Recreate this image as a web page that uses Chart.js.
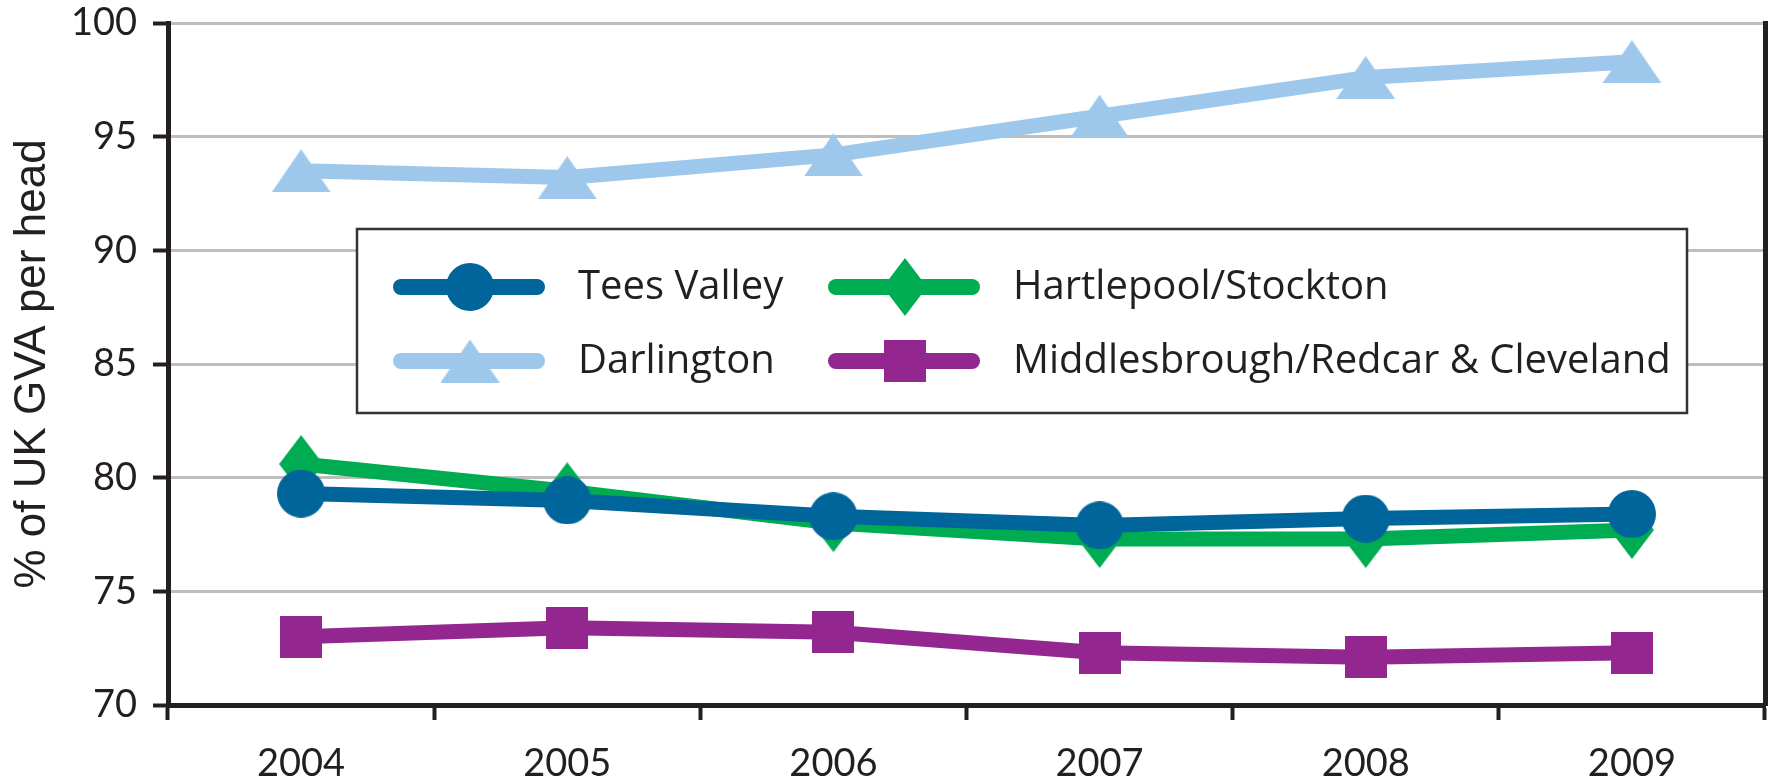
<!DOCTYPE html>
<html>
<head>
<meta charset="utf-8">
<script src="https://cdn.jsdelivr.net/npm/chart.js@4"></script>
<style>
  html, body { margin: 0; padding: 0; background: #fff; }
</style>
</head>
<body>
<canvas id="myChart" width="1783" height="776"></canvas>
<script>
const years = ['2004', '2005', '2006', '2007', '2008', '2009'];
const teesValley = [79.3, 79.0, 78.3, 77.9, 78.2, 78.4];
const darlington = [93.5, 93.2, 94.2, 95.9, 97.6, 98.3];
const hartlepoolStockton = [80.6, 79.4, 78.0, 77.3, 77.3, 77.7];
const middlesbroughRedcar = [73.0, 73.4, 73.2, 72.3, 72.1, 72.3];
const yTicks = [70, 75, 80, 85, 90, 95, 100];

const ink = '#231F20';
const gridGray = '#BEBEBE';

// marker shapes as small canvases so they can be a bit stretched like the original
function makeMarker(shape, color) {
  const c = document.createElement('canvas');
  const sizes = { circle: [48, 48], triangle: [59, 43], diamond: [44, 58], square: [42, 42] };
  const [w, h] = sizes[shape];
  c.width = w;
  c.height = h;
  const g = c.getContext('2d');
  g.fillStyle = color;
  g.beginPath();
  if (shape === 'circle') {
    g.arc(w / 2, h / 2, w / 2, 0, Math.PI * 2);
  } else if (shape === 'triangle') {
    g.moveTo(w / 2, 0);
    g.lineTo(w, h);
    g.lineTo(0, h);
  } else if (shape === 'diamond') {
    g.moveTo(w / 2, 0);
    g.lineTo(w, h / 2);
    g.lineTo(w / 2, h);
    g.lineTo(0, h / 2);
  } else {
    g.rect(0, 0, w, h);
  }
  g.closePath();
  g.fill();
  return c;
}

const series = [
  { label: 'Tees Valley', data: teesValley, color: '#00659A', shape: 'circle' },
  { label: 'Darlington', data: darlington, color: '#9DC8EC', shape: 'triangle' },
  { label: 'Hartlepool/Stockton', data: hartlepoolStockton, color: '#00AC52', shape: 'diamond' },
  { label: 'Middlesbrough/Redcar & Cleveland', data: middlesbroughRedcar, color: '#93278F', shape: 'square' }
];

const datasets = series.map(s => ({
  label: s.label,
  data: s.data,
  borderColor: s.color,
  backgroundColor: s.color,
  borderWidth: 15,
  borderJoinStyle: 'round',
  borderCapStyle: 'round',
  pointStyle: makeMarker(s.shape, s.color),
  pointRadius: 20,
  tension: 0
}));

// legend box sitting inside the plot
const boxLegend = {
  id: 'boxLegend',
  afterDraw(chart) {
    const { ctx } = chart;
    const x0 = 357, y0 = 229, w = 1330, h = 184;
    ctx.save();
    ctx.fillStyle = '#fff';
    ctx.fillRect(x0, y0, w, h);
    ctx.strokeStyle = '#333';
    ctx.lineWidth = 2.5;
    ctx.strokeRect(x0, y0, w, h);
    chart.data.datasets.forEach((ds, i) => {
      const cx = x0 + (i < 2 ? 0 : 435);
      const cy = y0 + (i % 2 === 0 ? 58 : 132);
      ctx.strokeStyle = ds.borderColor;
      ctx.lineWidth = 16;
      ctx.lineCap = 'round';
      ctx.beginPath();
      ctx.moveTo(cx + 44, cy);
      ctx.lineTo(cx + 180, cy);
      ctx.stroke();
      const m = ds.pointStyle;
      ctx.drawImage(m, cx + 113 - m.width / 2, cy - m.height / 2);
      ctx.fillStyle = ink;
      ctx.font = '40px "Open Sans"';
      ctx.textBaseline = 'middle';
      ctx.textAlign = 'left';
      ctx.fillText(ds.label, cx + 221, cy + 1);
    });
    ctx.restore();
  }
};

const ctx = document.querySelector('#myChart').getContext('2d');

new Chart(ctx, {
  type: 'line',
  data: { labels: years, datasets },
  options: {
    responsive: false,
    animation: false,
    events: [],
    layout: { padding: 0, autoPadding: false },
    scales: {
      x: {
        offset: true,
        afterFit: s => {
          s.height = 71;
          s.paddingLeft = 0;
          s.paddingRight = 0;
        },
        grid: {
          offset: true,
          drawOnChartArea: false,
          tickLength: 15,
          tickColor: ink,
          tickWidth: 4
        },
        border: { color: ink, width: 5 },
        ticks: { color: ink, font: { family: 'Lato', size: 38 }, padding: 21, maxRotation: 0 }
      },
      y: {
        min: 70,
        max: 100,
        afterBuildTicks: s => { s.ticks = yTicks.map(v => ({ value: v })); },
        afterFit: s => {
          s.width = 168;
          s.paddingTop = 23;
          s.paddingBottom = 0;
        },
        grid: {
          color: gridGray,
          lineWidth: 3,
          tickLength: 15,
          tickColor: ink,
          tickWidth: 4
        },
        border: { color: ink, width: 5 },
        ticks: { color: ink, font: { family: 'Lato', size: 38 }, padding: 16 },
        title: {
          display: true,
          text: '% of UK GVA per head',
          color: ink,
          font: { family: 'Liberation Sans', size: 44 },
          padding: { top: 6, bottom: 0 }
        }
      },
      y2: {
        position: 'right',
        min: 70,
        max: 100,
        afterFit: s => {
          s.width = 18;
          s.paddingTop = 0;
          s.paddingBottom = 0;
        },
        grid: { display: false },
        ticks: { display: false },
        border: { color: ink, width: 5 }
      }
    },
    plugins: {
      legend: { display: false },
      tooltip: { enabled: false }
    }
  },
  plugins: [boxLegend]
});
</script>
</body>
</html>
